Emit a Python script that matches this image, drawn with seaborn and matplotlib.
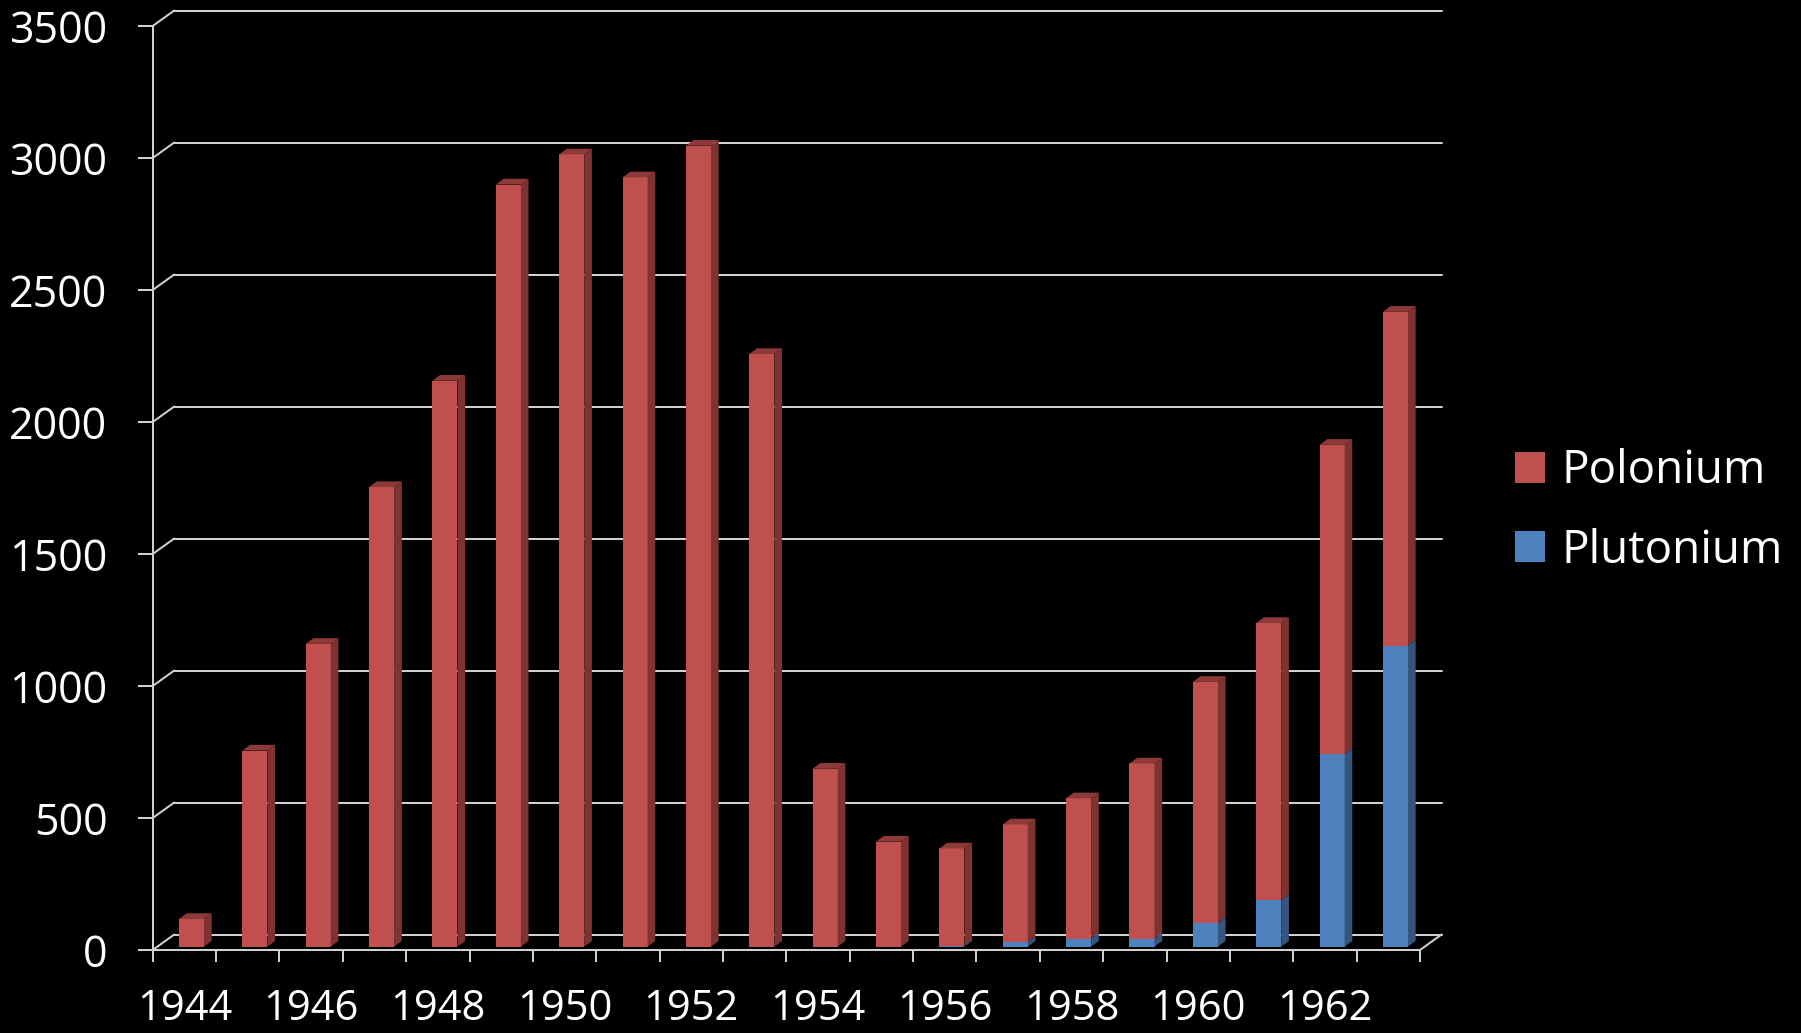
import numpy as np
import pandas as pd
import matplotlib
matplotlib.use("Agg")
import matplotlib.pyplot as plt
import seaborn as sns
from matplotlib.patches import Polygon, Patch
from matplotlib.lines import Line2D

# ---------------- data ----------------
years = [str(y) for y in range(1944, 1964)]
total = [105, 743, 1147, 1741, 2144, 2887, 3001, 2914, 3034, 2245,
         674, 398, 372, 463, 562, 694, 1003, 1226, 1901, 2405]
plutonium = [0, 0, 0, 0, 0, 0, 0, 0, 0, 0,
             0, 0, 4, 17, 30, 30, 88, 176, 729, 1140]
polonium = [t - p for t, p in zip(total, plutonium)]
series_names = ["Polonium", "Plutonium"]
y_ticks = [0, 500, 1000, 1500, 2000, 2500, 3000, 3500]
x_label_years = years[::2]

# ---------------- style ----------------
RED, RED_SIDE, RED_TOP = "#C0504D", "#7E3331", "#8E3A38"
BLUE, BLUE_SIDE, BLUE_TOP = "#4F81BD", "#34557E", "#3D6696"
GRID = "#D0D0D0"
LW = 1.44

sns.set_theme(style="white")
plt.rcParams["font.family"] = ["Open Sans", "DejaVu Sans"]

W, H = 1801, 1033
fig = plt.figure(figsize=(W / 100, H / 100), dpi=100, facecolor="black")
x0px, x1px, y0px, y1px = 152.7, 1420.0, 950.0, 26.0
ax = fig.add_axes([x0px / W, (H - y0px) / H, (x1px - x0px) / W, (y0px - y1px) / H])
ax.set_facecolor("black")

df = pd.DataFrame({"year": years, "total": total,
                   "plutonium": plutonium, "polonium": polonium})

sns.barplot(data=df, x="year", y="total", color=RED, saturation=1,
            width=0.395, linewidth=0, ax=ax, zorder=3)
n_red = len(ax.patches)
sns.barplot(data=df, x="year", y="plutonium", color=BLUE, saturation=1,
            width=0.395, linewidth=0, ax=ax, zorder=4)

ax.set_xlim(-0.5, len(years) - 0.5)
ax.set_ylim(0, 3500)
ax.set_xlabel("")
ax.set_ylabel("")
ax.grid(False)

# pseudo-3D geometry (in data units)
shift_x = 0.1125   # bars sit slightly into the depth
base = 12.5
dx, dy = 0.1215, 21.6          # bar depth
wdx, wdy = 0.34, 58.7          # back wall offset

red_patches = ax.patches[:n_red]
blue_patches = ax.patches[n_red:n_red + len(years)]
for pr, pb, tot, pu in zip(red_patches, blue_patches, total, plutonium):
    for p in (pr, pb):
        p.set_x(p.get_x() + shift_x)
        p.set_y(base)
    xa = pr.get_x()
    xb = xa + pr.get_width()
    top = base + tot
    mid = base + pu
    # side faces
    ax.add_patch(Polygon([(xb, mid), (xb + dx, mid + dy), (xb + dx, top + dy), (xb, top)],
                         closed=True, facecolor=RED_SIDE, edgecolor="none", zorder=3))
    if pu > 0:
        ax.add_patch(Polygon([(xb, base), (xb + dx, base + dy), (xb + dx, mid + dy), (xb, mid)],
                             closed=True, facecolor=BLUE_SIDE, edgecolor="none", zorder=4))
    # top face
    ax.add_patch(Polygon([(xa, top), (xa + dx, top + dy), (xb + dx, top + dy), (xb, top)],
                         closed=True, facecolor=RED_TOP, edgecolor="none", zorder=3,
                         clip_on=False))

# back wall gridlines with diagonal connectors
xl, xr = -0.5, len(years) - 0.5
for v in y_ticks:
    ax.add_line(Line2D([xl + wdx, xr + wdx], [v + wdy, v + wdy], color=GRID, lw=LW,
                       zorder=1, clip_on=False))
    ax.add_line(Line2D([xl, xl + wdx], [v, v + wdy], color=GRID, lw=LW,
                       zorder=1, clip_on=False))
ax.add_line(Line2D([xr, xr + wdx], [0, wdy], color=GRID, lw=LW, zorder=1, clip_on=False))

# spines
for s in ("top", "right"):
    ax.spines[s].set_visible(False)
for s in ("left", "bottom"):
    ax.spines[s].set_color(GRID)
    ax.spines[s].set_linewidth(LW)
    ax.spines[s].set_zorder(5)

# ticks
ax.set_yticks(y_ticks)
ax.set_yticklabels([str(v) for v in y_ticks])
ax.tick_params(axis="y", which="major", length=10.6, width=LW, color=GRID,
               direction="out", pad=22, labelsize=31, labelcolor="white", left=True)
ax.set_xticks(range(0, len(years), 2))
ax.set_xticklabels(x_label_years)
ax.tick_params(axis="x", which="major", length=0, pad=27, labelsize=30,
               labelcolor="white", bottom=True)
ax.set_xticks(np.arange(-0.5, len(years), 1.0), minor=True)
ax.tick_params(axis="x", which="minor", length=8.6, width=LW, color=GRID,
               direction="out", bottom=True)

# legend
handles = [Patch(facecolor=RED, edgecolor="none"), Patch(facecolor=BLUE, edgecolor="none")]
fig.legend(handles, series_names, loc="center left",
           bbox_to_anchor=(1515 / W, (H - 511) / H), frameon=False, fontsize=33,
           handlelength=0.655, handleheight=0.655, handletextpad=0.36,
           labelspacing=0.73, borderpad=0, borderaxespad=0, labelcolor="white")

fig.savefig("out.png", dpi=100, facecolor="black")
